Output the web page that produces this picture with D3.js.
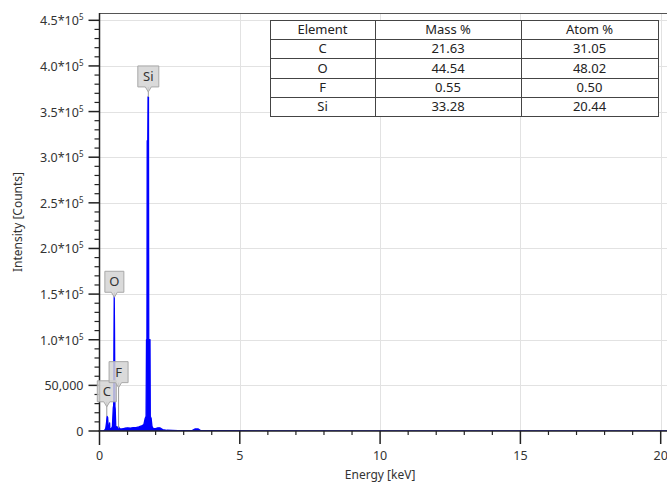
<!DOCTYPE html>
<html>
<head>
<meta charset="utf-8">
<script src="https://cdn.jsdelivr.net/npm/d3@7"></script>
<style>
    body { margin: 0; background: #fff; }
    #spectrum-area { width: 667px; height: 483px; overflow: hidden; }
    text { font-family: "Noto Sans", "DejaVu Sans", sans-serif; }
</style>
</head>
<body>
<div id="spectrum-area"></div>
<script>
// EDS spectrum, values

const energy = [0.00, 0.12, 0.18, 0.22, 0.25, 0.27, 0.29, 0.31, 0.34, 0.36, 0.37, 0.42, 0.46, 0.49, 0.505, 0.515, 0.525, 0.535, 0.55, 0.56,
    0.58, 0.64, 0.68, 0.72, 0.80, 0.90, 1.00, 1.10, 1.20, 1.30, 1.40, 1.50, 1.58, 1.63, 1.66, 1.675, 1.69, 1.70, 1.72, 1.73,
    1.745, 1.755, 1.80, 1.81, 1.84, 1.87, 1.92, 2.00, 2.08, 2.15, 2.25, 2.40, 2.80, 3.30, 3.40, 3.52, 3.60, 4.50, 6.00, 10.00, 20.50];
const counts = [0, 0, 800, 2500, 9000, 16000, 15000, 4000, 2500, 9000, 2500, 2500, 5000, 25000, 28000, 100000, 148000, 110000, 27000, 24000,
    5000, 4000, 4500, 2500, 2200, 3000, 3500, 3200, 3600, 3800, 4500, 5500, 7000, 14000, 16000, 100000, 100000, 318000, 318000, 366000,
    366000, 100000, 100000, 16000, 14000, 5000, 2500, 2500, 3500, 3500, 1500, 800, 500, 500, 2200, 2200, 400, 300, 200, 100, 50];

// peak labels: element, line energy, peak top, height where the label box sits
const peakNames = ["C", "O", "F", "Si"];
const peakEnergy = [0.26, 0.53, 0.68, 1.74];
const peakTop = [16000, 148000, 3000, 366000];
const peakBoxAt = [32000, 152000, 53000, 377000];

// quantification table
const tableHeader = ["Element", "Mass %", "Atom %"];
const tableElements = ["C", "O", "F", "Si"];
const massPercent = ["21.63", "44.54", "0.55", "33.28"];
const atomPercent = ["31.05", "48.02", "0.50", "20.44"];

const xTicks = [0, 5, 10, 15, 20];
const yTicks = [0, 50000, 100000, 150000, 200000, 250000, 300000, 350000, 400000, 450000];

class SpectrumVis {

    constructor(parentElement) {
        this.parentElement = parentElement;
        this.initVis();
    }

    initVis() {
        let vis = this;

        vis.width = 667;
        vis.height = 483;
        vis.margin = {top: 13, left: 99.5, bottom: 52};

        vis.svg = d3.select("#" + vis.parentElement).append("svg")
            .attr("width", vis.width)
            .attr("height", vis.height);

        vis.x = d3.scaleLinear().domain([0, 20.5]).range([vis.margin.left, vis.margin.left + 28.06 * 20.5]);
        vis.y = d3.scaleLinear().domain([0, 458000]).range([vis.height - vis.margin.bottom, vis.margin.top]);

        vis.wrangleData();
    }

    wrangleData() {
        let vis = this;

        vis.displayData = energy.map((e, i) => ({e: e, c: counts[i]}));
        vis.peaks = peakNames.map((n, i) => ({name: n, e: peakEnergy[i], top: peakTop[i], box: peakBoxAt[i]}));
        vis.rows = tableElements.map((el, i) => [el, massPercent[i], atomPercent[i]]);

        vis.updateVis();
    }

    yLabel(sel, d) {
        if (d === 0) {
            sel.text("0");
        } else if (d === 50000) {
            sel.text(d3.format(",")(d));
        } else {
            sel.text((d / 100000).toFixed(1) + "*10");
            sel.append("tspan").attr("dy", -5).attr("font-size", 8).text("5");
        }
    }

    updateVis() {
        let vis = this;
        let y0 = vis.y(0), yTop = vis.y.range()[1];
        let xLeft = vis.x(0), xRight = vis.width;

        // grid
        vis.svg.append("g").selectAll("line.hgrid")
            .data(yTicks.filter(d => d > 0))
            .enter().append("line")
            .attr("class", "hgrid")
            .attr("x1", xLeft).attr("x2", xRight)
            .attr("y1", d => Math.round(vis.y(d)) + 0.5).attr("y2", d => Math.round(vis.y(d)) + 0.5)
            .attr("stroke", "#e2e2e2");

        vis.svg.append("g").selectAll("line.vgrid")
            .data(xTicks.filter(d => d > 0))
            .enter().append("line")
            .attr("class", "vgrid")
            .attr("x1", d => Math.round(vis.x(d)) + 0.5).attr("x2", d => Math.round(vis.x(d)) + 0.5)
            .attr("y1", yTop).attr("y2", y0)
            .attr("stroke", "#e2e2e2");

        // frame top
        vis.svg.append("line")
            .attr("x1", xLeft).attr("x2", xRight)
            .attr("y1", Math.round(yTop) + 0.5).attr("y2", Math.round(yTop) + 0.5)
            .attr("stroke", "#555");

        // table
        let colX = [270, 375, 521, 658];
        let rowH = 19.2, tableTop = 20;
        let table = vis.svg.append("g").attr("class", "quant-table");
        let allRows = [tableHeader].concat(vis.rows);

        table.append("rect")
            .attr("x", colX[0] + 0.5).attr("y", tableTop + 0.5)
            .attr("width", colX[3] - colX[0]).attr("height", rowH * allRows.length)
            .attr("fill", "#fff").attr("stroke", "#444");

        allRows.forEach(function (row, r) {
            if (r > 0) {
                table.append("line")
                    .attr("x1", colX[0]).attr("x2", colX[3])
                    .attr("y1", Math.round(tableTop + r * rowH) + 0.5).attr("y2", Math.round(tableTop + r * rowH) + 0.5)
                    .attr("stroke", "#444");
            }
            row.forEach(function (cell, c) {
                table.append("text")
                    .attr("x", (colX[c] + colX[c + 1]) / 2)
                    .attr("y", tableTop + r * rowH + rowH / 2 + 4.5)
                    .attr("text-anchor", "middle")
                    .attr("font-size", 13)
                    .attr("fill", "#222")
                    .text(cell);
            });
        });
        [1, 2].forEach(function (c) {
            table.append("line")
                .attr("x1", colX[c] + 0.5).attr("x2", colX[c] + 0.5)
                .attr("y1", tableTop).attr("y2", tableTop + rowH * allRows.length)
                .attr("stroke", "#444");
        });

        // spectrum
        vis.svg.append("clipPath").attr("id", "plot-clip")
            .append("rect").attr("x", xLeft).attr("y", yTop).attr("width", xRight - xLeft).attr("height", y0 - yTop);

        let area = d3.area()
            .x(d => vis.x(d.e))
            .y0(y0)
            .y1(d => vis.y(d.c));

        vis.svg.append("path")
            .datum(vis.displayData)
            .attr("clip-path", "url(#plot-clip)")
            .attr("d", area)
            .attr("fill", "#0000ff")
            .attr("stroke", "#0000ff")
            .attr("stroke-width", 1.3)
            .attr("stroke-linejoin", "round");

        // axes
        let xMinor = d3.range(0, 21, 1).filter(d => d % 5 !== 0);
        let yMinor = d3.range(0, 458000, 10000).filter(d => d % 50000 !== 0);

        let axes = vis.svg.append("g").attr("stroke", "#222");
        axes.append("line")
            .attr("x1", xLeft - 1).attr("x2", xRight)
            .attr("y1", y0).attr("y2", y0).attr("stroke-width", 1.5);
        axes.append("line")
            .attr("x1", xLeft).attr("x2", xLeft)
            .attr("y1", yTop).attr("y2", y0 + 14).attr("stroke-width", 1.5);

        axes.selectAll("line.xmajor").data(xTicks.filter(d => d > 0))
            .enter().append("line").attr("class", "xmajor")
            .attr("x1", d => vis.x(d)).attr("x2", d => vis.x(d))
            .attr("y1", y0).attr("y2", y0 + 13).attr("stroke-width", 1.5);
        axes.selectAll("line.xminor").data(xMinor)
            .enter().append("line").attr("class", "xminor")
            .attr("x1", d => vis.x(d)).attr("x2", d => vis.x(d))
            .attr("y1", y0).attr("y2", y0 + 4).attr("stroke-width", 1.2);

        axes.selectAll("line.ymajor").data(yTicks)
            .enter().append("line").attr("class", "ymajor")
            .attr("x1", xLeft - 11).attr("x2", xLeft)
            .attr("y1", d => vis.y(d)).attr("y2", d => vis.y(d)).attr("stroke-width", 1.5);
        axes.selectAll("line.yminor").data(yMinor)
            .enter().append("line").attr("class", "yminor")
            .attr("x1", xLeft - 5).attr("x2", xLeft)
            .attr("y1", d => vis.y(d)).attr("y2", d => vis.y(d)).attr("stroke-width", 1.2);

        vis.svg.append("g").selectAll("text.xlab").data(xTicks)
            .enter().append("text").attr("class", "xlab")
            .attr("x", d => vis.x(d)).attr("y", y0 + 29)
            .attr("text-anchor", "middle").attr("font-size", 12.5).attr("fill", "#333")
            .text(d => d);

        vis.svg.append("g").selectAll("text.ylab").data(yTicks)
            .enter().append("text").attr("class", "ylab")
            .attr("x", xLeft - 16).attr("y", d => vis.y(d) + 5)
            .attr("text-anchor", "end").attr("font-size", 12.5).attr("fill", "#333")
            .each(function (d) { vis.yLabel(d3.select(this), d); });

        vis.svg.append("text")
            .attr("x", vis.x(10)).attr("y", 479)
            .attr("text-anchor", "middle").attr("font-size", 12).attr("fill", "#333")
            .text("Energy [keV]");

        vis.svg.append("text")
            .attr("transform", `translate(22, ${(y0 + yTop) / 2}) rotate(-90)`)
            .attr("text-anchor", "middle").attr("font-size", 12).attr("fill", "#333")
            .text("Intensity [Counts]");

        // peak labels
        let labels = vis.svg.append("g").selectAll("g.peak-label")
            .data(vis.peaks)
            .enter().append("g")
            .attr("class", "peak-label");

        labels.append("line")
            .attr("x1", d => vis.x(d.e)).attr("x2", d => vis.x(d.e))
            .attr("y1", d => vis.y(d.box)).attr("y2", d => vis.y(d.top))
            .attr("stroke", "#999").attr("stroke-width", 1);

        labels.append("path")
            .attr("d", function (d) {
                let cx = vis.x(d.e), by = vis.y(d.box);
                let w = d.name.length > 1 ? 21 : 19, h = 21;
                return `M${cx - w / 2},${by - h} h${w} v${h} h${-w / 2 + 3} l-3,5 l-3,-5 h${-w / 2 + 3} z`;
            })
            .attr("fill", "#d4d4d4").attr("fill-opacity", 0.85)
            .attr("stroke", "#a8a8a8").attr("stroke-width", 1);

        labels.append("text")
            .attr("x", d => vis.x(d.e)).attr("y", d => vis.y(d.box) - 6)
            .attr("text-anchor", "middle").attr("font-size", 13).attr("fill", "#333")
            .text(d => d.name);
    }
}

let spectrumVis = new SpectrumVis("spectrum-area");
</script>
</body>
</html>
